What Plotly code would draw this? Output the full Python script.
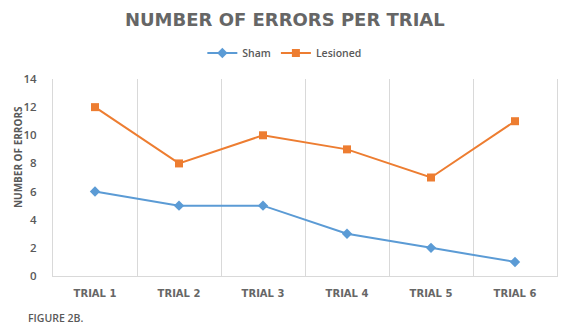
import plotly.graph_objects as go

trials = ["TRIAL 1", "TRIAL 2", "TRIAL 3", "TRIAL 4", "TRIAL 5", "TRIAL 6"]
sham = [6, 5, 5, 3, 2, 1]
lesioned = [12, 8, 10, 9, 7, 11]
y_ticks = [0, 2, 4, 6, 8, 10, 12, 14]

blue = "#5B9BD5"
orange = "#ED7D31"
gray = "#595959"
grid = "#D9D9D9"

fig = go.Figure()
fig.add_trace(go.Scatter(x=trials, y=sham, name="Sham", mode="lines+markers",
                         line=dict(color=blue, width=2),
                         marker=dict(symbol="diamond", size=8, color=blue)))
fig.add_trace(go.Scatter(x=trials, y=lesioned, name="Lesioned", mode="lines+markers",
                         line=dict(color=orange, width=2),
                         marker=dict(symbol="square", size=8, color=orange)))

fig.update_layout(
    width=575, height=324,
    margin=dict(l=53, r=18, t=79, b=48),
    paper_bgcolor="white", plot_bgcolor="white",
    font=dict(family="Open Sans, sans-serif", color=gray),
    title=dict(text="NUMBER OF ERRORS PER TRIAL", x=0.46, xref="paper", xanchor="center",
               y=0.938, yanchor="middle",
               font=dict(size=18, color="#666666", family="DejaVu Sans", weight="bold")),
    legend=dict(orientation="h", x=0.46, xanchor="center", y=1.132, yanchor="middle",
                font=dict(size=10.5, color=gray, family="Open Sans", weight=600), itemwidth=30),
    xaxis=dict(type="category", range=[-0.5, 5.5], tickson="boundaries", showgrid=True,
               gridcolor=grid, gridwidth=1, showline=True, linecolor=grid, ticks="",
               ticklabelstandoff=8,
               tickfont=dict(size=10, color="#666666", family="DejaVu Sans", weight="bold"),
               zeroline=False),
    yaxis=dict(range=[0, 14], tickvals=y_ticks, showgrid=False, zeroline=False,
               showline=True, mirror=True, linecolor=grid, ticks="",
               ticklabelstandoff=13,
               tickfont=dict(size=11.5, color=gray, family="Open Sans", weight=600)),
    showlegend=True,
)
fig.add_annotation(text="NUMBER OF ERRORS", xref="paper", yref="paper", x=-0.0694, y=0.604,
                   xanchor="center", yanchor="middle", textangle=-90, showarrow=False,
                   font=dict(size=10, color=gray, family="Open Sans", weight="bold"))
fig.add_annotation(text="FIGURE 2B.", xref="paper", yref="paper", x=-0.0536, y=-0.213,
                   xanchor="left", yanchor="middle", showarrow=False,
                   font=dict(size=10.5, color=gray, family="Open Sans", weight=600))

fig.write_html("out.html")
